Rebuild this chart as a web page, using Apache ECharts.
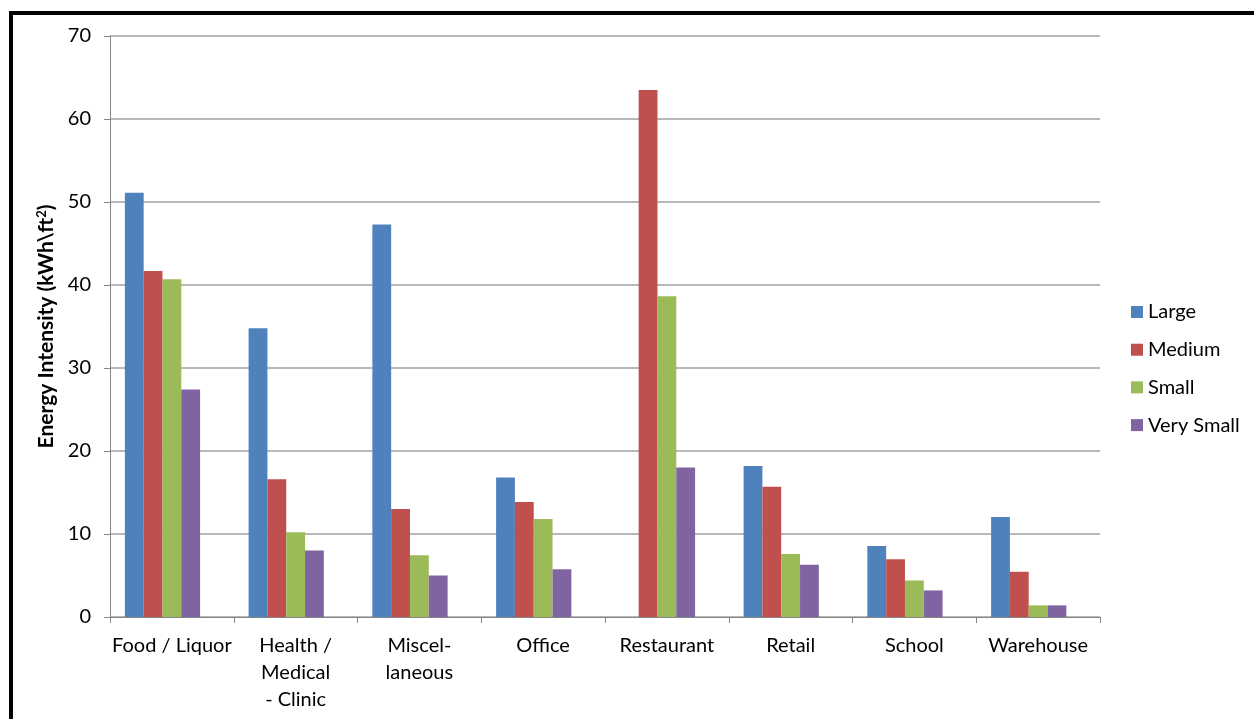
<!DOCTYPE html>
<html>
<head>
<meta charset="utf-8">
<script src="https://cdn.jsdelivr.net/npm/echarts@6/dist/echarts.min.js"></script>
<style>
  html, body { margin: 0; padding: 0; background: #fff; }
  #chart { width: 1254px; height: 719px; }
</style>
</head>
<body>
<div id="chart"></div>
<script>
// Building types along the x axis
const categories = ['Food / Liquor', 'Health /\nMedical\n- Clinic', 'Miscel-\nlaneous', 'Office',
                    'Restaurant', 'Retail', 'School', 'Warehouse'];

// Energy intensity by building size (kWh per square foot)
const large     = [51.1, 34.8, 47.3, 16.8, 0,    18.2, 8.55, 12.05];
const medium    = [41.7, 16.6, 13.0, 13.85, 63.5, 15.7, 6.95, 5.45];
const small     = [40.7, 10.2, 7.45, 11.8, 38.65, 7.6, 4.4, 1.4];
const verySmall = [27.4, 8.0,  5.0,  5.75, 18.0,  6.3, 3.2, 1.4];

const seriesNames = ['Large', 'Medium', 'Small', 'Very Small'];
const seriesData = [large, medium, small, verySmall];
const colors = ['#4F81BD', '#C0504D', '#9BBB59', '#8064A2'];

const FONT = 'Lato, "Open Sans", sans-serif';

const chart = echarts.init(document.getElementById('chart'), null, { renderer: 'canvas' });

// Four visible bar series plus an empty trailing slot, so each group of
// bars sits slightly left of its category centre.
const barSeries = seriesNames.map((name, i) => ({
  name,
  type: 'bar',
  data: seriesData[i],
  barGap: '0%',
  barCategoryGap: '24%',
  itemStyle: { color: colors[i] }
}));
barSeries.push({
  name: 'spacer',
  type: 'bar',
  data: categories.map(() => null),
  barGap: '0%',
  barCategoryGap: '24%',
  silent: true,
  itemStyle: { color: 'transparent' }
});

chart.setOption({
  animation: false,
  backgroundColor: '#ffffff',
  textStyle: { fontFamily: FONT },
  color: colors,
  grid: { left: 110, right: 154, top: 36, bottom: 102, containLabel: false },
  legend: {
    orient: 'vertical',
    left: 1131,
    top: 302,
    padding: 0,
    icon: 'rect',
    itemWidth: 12,
    itemHeight: 12,
    itemGap: 17.7,
    itemTextGap: 6,
    textStyle: { fontFamily: FONT, fontSize: 20, color: '#000', lineHeight: 20 },
    data: seriesNames
  },
  xAxis: {
    type: 'category',
    data: categories,
    axisLine: { lineStyle: { color: '#868686', width: 1 } },
    axisTick: { show: true, length: 6, lineStyle: { color: '#868686' } },
    axisLabel: {
      interval: 0,
      color: '#000',
      fontFamily: FONT,
      fontSize: 20,
      lineHeight: 27,
      margin: 15
    },
    splitLine: { show: false }
  },
  yAxis: {
    type: 'value',
    min: 0,
    max: 70,
    interval: 10,
    name: 'Energy Intensity (kWh\\ft{sup|2})',
    nameLocation: 'middle',
    nameRotate: 90,
    nameGap: 47,
    nameTextStyle: {
      fontFamily: FONT,
      fontSize: 21,
      fontWeight: 'bold',
      color: '#000',
      rich: {
        sup: { fontSize: 13, fontWeight: 'bold', color: '#000', padding: [0, 0, 10, 0] }
      }
    },
    axisLine: { show: true, lineStyle: { color: '#868686', width: 1 } },
    axisTick: { show: true, length: 6, lineStyle: { color: '#868686' } },
    axisLabel: { color: '#000', fontFamily: FONT, fontSize: 20, margin: 19 },
    splitLine: { show: true, lineStyle: { color: '#a0a0a0', width: 1.5 } }
  },
  series: barSeries,
  graphic: [
    {
      type: 'rect',
      shape: { x: 11, y: 13, width: 1400, height: 1000 },
      style: { fill: 'none', stroke: '#000', lineWidth: 4 },
      silent: true,
      z: 100
    }
  ]
});
</script>
</body>
</html>
